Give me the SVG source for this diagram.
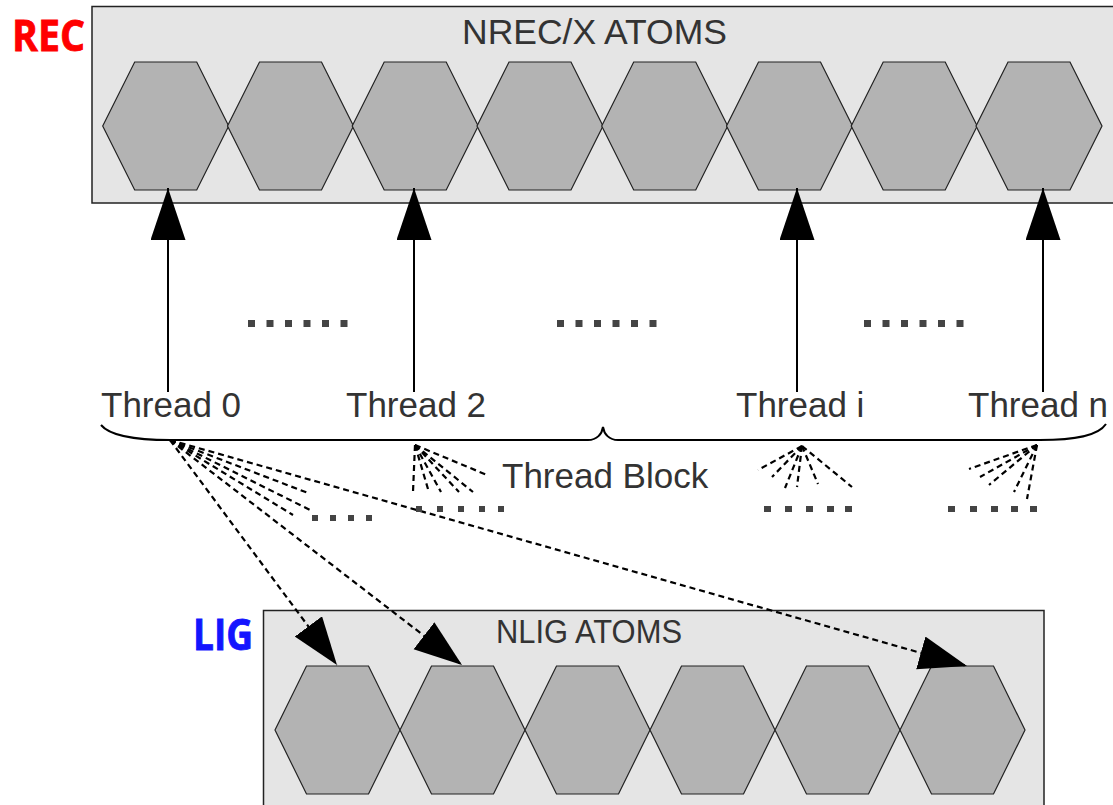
<svg xmlns="http://www.w3.org/2000/svg" width="1113" height="805" viewBox="0 0 1113 805">
<style>
.box{fill:#e5e5e5;stroke:#222;stroke-width:1.5}
.hex{fill:#b3b3b3;stroke:#222;stroke-width:1.2}
.lbl{font-family:"Liberation Sans",Arial,sans-serif;fill:#333}
.big{font-family:"Open Sans","Liberation Sans",sans-serif;font-weight:bold;stroke-width:0.8}
.solid{stroke:#000;stroke-width:2;fill:none}
.dash{stroke:#000;stroke-width:2.2;stroke-dasharray:6 4;fill:none}
.sq{fill:#444}
</style>
<defs>
<marker id="up" markerUnits="userSpaceOnUse" markerWidth="54" markerHeight="36" viewBox="0 0 54 36" refX="52" refY="17.5" orient="auto">
<path d="M0,0 L52,17.5 L0,35 Z" fill="#000"/>
</marker>
<marker id="dh" markerUnits="userSpaceOnUse" markerWidth="50" markerHeight="36" viewBox="0 0 50 36" refX="48" refY="17" orient="auto">
<path d="M0,0 L48,17 L0,34 Z" fill="#000"/>
</marker>
<polygon id="hx" points="-63,0 -31,-64 31,-64 63,0 31,64 -31,64"/>
<polygon id="hxl" points="-62.5,0 -31,-64 31,-64 62.5,0 31,64 -31,64"/>
</defs>

<g id="rec-label"><text class="big" x="12" y="51" font-size="43" fill="#ff0000" stroke="#ff0000" textLength="73" lengthAdjust="spacingAndGlyphs">REC</text></g>
<g id="lig-label"><text class="big" x="193" y="650" font-size="43" fill="#1414ff" stroke="#1414ff" textLength="60" lengthAdjust="spacingAndGlyphs">LIG</text></g>

<g id="rec-box">
<rect class="box" x="92" y="6.5" width="1030" height="196.5"/>
<text class="lbl" x="594.5" y="44" font-size="35" text-anchor="middle" textLength="265" lengthAdjust="spacingAndGlyphs">NREC/X ATOMS</text>
<g id="rec-atoms">
<use href="#hx" class="hex" x="165.7" y="126"/>
<use href="#hx" class="hex" x="290.5" y="126"/>
<use href="#hx" class="hex" x="415.2" y="126"/>
<use href="#hx" class="hex" x="540" y="126"/>
<use href="#hx" class="hex" x="664.7" y="126"/>
<use href="#hx" class="hex" x="789.5" y="126"/>
<use href="#hx" class="hex" x="914.2" y="126"/>
<use href="#hx" class="hex" x="1039" y="126"/>
</g>
</g>

<g id="lig-box">
<rect class="box" x="263.5" y="610.5" width="780.5" height="200"/>
<text class="lbl" x="496" y="643" font-size="33" textLength="186" lengthAdjust="spacingAndGlyphs">NLIG ATOMS</text>
<g id="lig-atoms">
<use href="#hxl" class="hex" x="337.5" y="730"/>
<use href="#hxl" class="hex" x="462.5" y="730"/>
<use href="#hxl" class="hex" x="587.5" y="730"/>
<use href="#hxl" class="hex" x="712.5" y="730"/>
<use href="#hxl" class="hex" x="837.5" y="730"/>
<use href="#hxl" class="hex" x="962.5" y="730"/>
</g>
</g>

<g id="threads">
<text class="lbl" x="101" y="417" font-size="35">Thread 0</text>
<text class="lbl" x="346" y="417" font-size="35">Thread 2</text>
<text class="lbl" x="736" y="417" font-size="35">Thread i</text>
<text class="lbl" x="968" y="417" font-size="35">Thread n</text>
</g>

<g id="thread-block">
<path class="solid" stroke-width="1.5" d="M101,425 C110,436 135,440 170,440 L588,440 C597,440 602,434 603,427 C604,434 609,440 618,440 L1040,440 C1075,440 1098,436 1106,424"/>
<text class="lbl" x="502" y="488" font-size="35">Thread Block</text>
</g>

<g id="connectors">
<line class="solid" x1="168" y1="392" x2="168" y2="188" marker-end="url(#up)"/>
<line class="solid" x1="414" y1="392" x2="414" y2="188" marker-end="url(#up)"/>
<line class="solid" x1="797" y1="392" x2="797" y2="188" marker-end="url(#up)"/>
<line class="solid" x1="1043" y1="392" x2="1043" y2="188" marker-end="url(#up)"/>

<line class="dash" x1="170" y1="440" x2="337" y2="665" marker-end="url(#dh)"/>
<line class="dash" x1="170" y1="440" x2="462" y2="665" marker-end="url(#dh)"/>
<line class="dash" x1="170" y1="440" x2="967" y2="666" marker-end="url(#dh)"/>
<line class="dash" x1="170" y1="440" x2="308" y2="493"/>
<line class="dash" x1="170" y1="440" x2="310" y2="510"/>
<line class="dash" x1="170" y1="440" x2="293" y2="515"/>

<line class="dash" x1="415" y1="445" x2="413" y2="492"/>
<line class="dash" x1="415" y1="445" x2="428" y2="489"/>
<line class="dash" x1="415" y1="445" x2="441" y2="492"/>
<line class="dash" x1="415" y1="445" x2="459" y2="492"/>
<line class="dash" x1="415" y1="445" x2="473" y2="492"/>
<line class="dash" x1="415" y1="445" x2="487" y2="475"/>

<line class="dash" x1="802" y1="446" x2="758" y2="470"/>
<line class="dash" x1="802" y1="446" x2="772" y2="477"/>
<line class="dash" x1="802" y1="446" x2="785" y2="488"/>
<line class="dash" x1="802" y1="446" x2="797" y2="487"/>
<line class="dash" x1="802" y1="446" x2="818" y2="484"/>
<line class="dash" x1="802" y1="446" x2="852" y2="487"/>

<line class="dash" x1="1037" y1="445" x2="969" y2="469"/>
<line class="dash" x1="1037" y1="445" x2="980" y2="477"/>
<line class="dash" x1="1037" y1="445" x2="989" y2="485"/>
<line class="dash" x1="1037" y1="445" x2="1014" y2="492"/>
<line class="dash" x1="1037" y1="445" x2="1027" y2="499"/>
</g>

<g id="ellipses">
<rect class="sq" x="248" y="320" width="7" height="7"/>
<rect class="sq" x="266.5" y="320" width="7" height="7"/>
<rect class="sq" x="285" y="320" width="7" height="7"/>
<rect class="sq" x="303.5" y="320" width="7" height="7"/>
<rect class="sq" x="322" y="320" width="7" height="7"/>
<rect class="sq" x="340.5" y="320" width="7" height="7"/>

<rect class="sq" x="557" y="320" width="7" height="7"/>
<rect class="sq" x="575.5" y="320" width="7" height="7"/>
<rect class="sq" x="594" y="320" width="7" height="7"/>
<rect class="sq" x="612.5" y="320" width="7" height="7"/>
<rect class="sq" x="631" y="320" width="7" height="7"/>
<rect class="sq" x="649.5" y="320" width="7" height="7"/>

<rect class="sq" x="864" y="320" width="7" height="7"/>
<rect class="sq" x="882.5" y="320" width="7" height="7"/>
<rect class="sq" x="901" y="320" width="7" height="7"/>
<rect class="sq" x="919.5" y="320" width="7" height="7"/>
<rect class="sq" x="938" y="320" width="7" height="7"/>
<rect class="sq" x="956.5" y="320" width="7" height="7"/>

<rect class="sq" x="312" y="515" width="6" height="6"/>
<rect class="sq" x="330" y="515" width="6" height="6"/>
<rect class="sq" x="348" y="515" width="6" height="6"/>
<rect class="sq" x="366" y="515" width="6" height="6"/>

<rect class="sq" x="416" y="506" width="6" height="6"/>
<rect class="sq" x="437" y="506" width="6" height="6"/>
<rect class="sq" x="458" y="506" width="6" height="6"/>
<rect class="sq" x="479" y="506" width="6" height="6"/>
<rect class="sq" x="498" y="506" width="6" height="6"/>

<rect class="sq" x="764" y="506" width="7" height="6"/>
<rect class="sq" x="785" y="506" width="7" height="6"/>
<rect class="sq" x="806" y="506" width="7" height="6"/>
<rect class="sq" x="827" y="506" width="7" height="6"/>
<rect class="sq" x="845" y="506" width="7" height="6"/>

<rect class="sq" x="948" y="506" width="7" height="6"/>
<rect class="sq" x="970" y="506" width="7" height="6"/>
<rect class="sq" x="991" y="506" width="7" height="6"/>
<rect class="sq" x="1011" y="506" width="7" height="6"/>
<rect class="sq" x="1030" y="506" width="7" height="6"/>
</g>
</svg>
